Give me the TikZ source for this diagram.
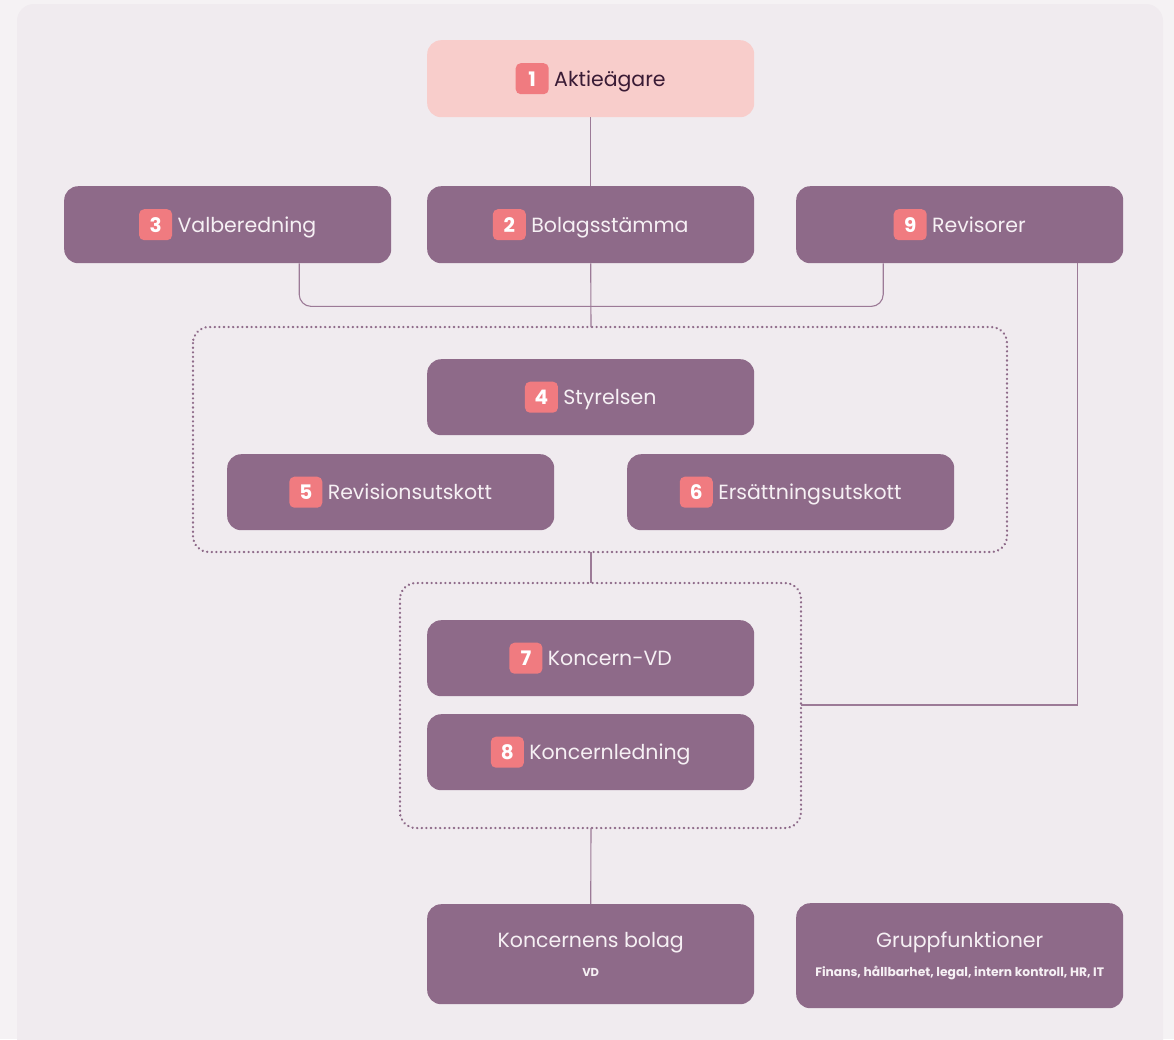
\documentclass[tikz,border=0pt]{standalone}
\usepackage{fontspec}
\setmainfont{Poppins}
\usetikzlibrary{calc}
\definecolor{pagebg}{HTML}{F5F2F4}
\definecolor{panel}{HTML}{F0EBEF}
\definecolor{boxc}{HTML}{8E6A89}
\definecolor{pinkc}{HTML}{F8CDCB}
\definecolor{badgec}{HTML}{F07B80}
\definecolor{linec}{HTML}{9C7A97}
\definecolor{txtc}{HTML}{F6F0F4}
\definecolor{darktxt}{HTML}{3A1B35}
\newcommand\numbadge[1]{\tikz[baseline=(b.base)]\node[fill=badgec,rounded corners=5pt,minimum width=33pt,minimum height=31pt,inner sep=0pt,text=white,font=\fontsize{20}{22}\selectfont\bfseries](b){#1};}
\newcommand\boxlbl[2]{\raisebox{-2.5pt}{\numbadge{#1} #2}}
\tikzset{
  orgbox/.style={fill=boxc,rounded corners=14pt,minimum width=327pt,minimum height=77pt,inner sep=0pt,text=txtc,font=\fontsize{20.5}{24}\selectfont,anchor=north west},
  conn/.style={draw=linec,line width=1.1pt},
  grp/.style={draw=boxc,line width=2.4pt,line cap=round,dash pattern=on 0.2pt off 4.4pt,rounded corners=16pt}
}
\begin{document}
\begin{tikzpicture}[x=1pt,y=-1pt]
\useasboundingbox (0,0) rectangle (1174,1039);
\fill[pagebg] (0,0) rectangle (1174,1039);
\begin{scope}
\clip (0,0) rectangle (1174,1039);
\fill[panel,rounded corners=17pt] (17,4) rectangle (1163,1070);
\end{scope}
% groups
\draw[grp] (193,327) rectangle (1007,552);
\draw[grp] (400,583) rectangle (801,828);
\coordinate (g1n) at (591,327);
\coordinate (g1s) at (591,552);
\coordinate (g2n) at (591,583);
\coordinate (g2s) at (591,828);
\coordinate (g2e) at (801,705);
% boxes
\node[orgbox,fill=pinkc,text=darktxt] (a1) at (427,40) {\boxlbl{1}{Aktieägare}};
\node[orgbox] (a3) at (64,186) {\boxlbl{3}{Valberedning}};
\node[orgbox] (a2) at (427,186) {\boxlbl{2}{Bolagsstämma}};
\node[orgbox] (a9) at (796,186) {\boxlbl{9}{Revisorer}};
\node[orgbox,minimum height=76pt] (a4) at (427,359) {\boxlbl{4}{Styrelsen}};
\node[orgbox,minimum height=76pt] (a5) at (227,454) {\boxlbl{5}{Revisionsutskott}};
\node[orgbox,minimum height=76pt] (a6) at (627,454) {\boxlbl{6}{Ersättningsutskott}};
\node[orgbox,minimum height=76pt] (a7) at (427,620) {\boxlbl{7}{Koncern-VD}};
\node[orgbox,minimum height=76pt] (a8) at (427,714) {\boxlbl{8}{Koncernledning}};
\node[orgbox,minimum height=100pt,align=center] (kb) at (427,904) {\raisebox{-2pt}{Koncernens bolag}\\[7pt]{\fontsize{11.5}{13}\selectfont\bfseries VD}};
\node[orgbox,minimum height=105pt,align=center] (gf) at (796,903) {\raisebox{-4pt}{Gruppfunktioner}\\[9pt]{\fontsize{12.3}{14}\selectfont\bfseries Finans, hållbarhet, legal, intern kontroll, HR, IT}};
% connectors
\draw[conn] (a1.south) -- (a2.north);
\draw[conn] (a2.south) -- (g1n);
\draw[conn,rounded corners=12pt] ($(a3.south)+(71.5,0)$) -- ++(0,43) -| ($(a9.south)+(-76.5,0)$);
\draw[conn] ($(a9.south)+(117.5,0)$) |- (g2e);
\draw[conn] (g1s) -- (g2n);
\draw[conn] (g2s) -- (kb.north);
\end{tikzpicture}
\end{document}
